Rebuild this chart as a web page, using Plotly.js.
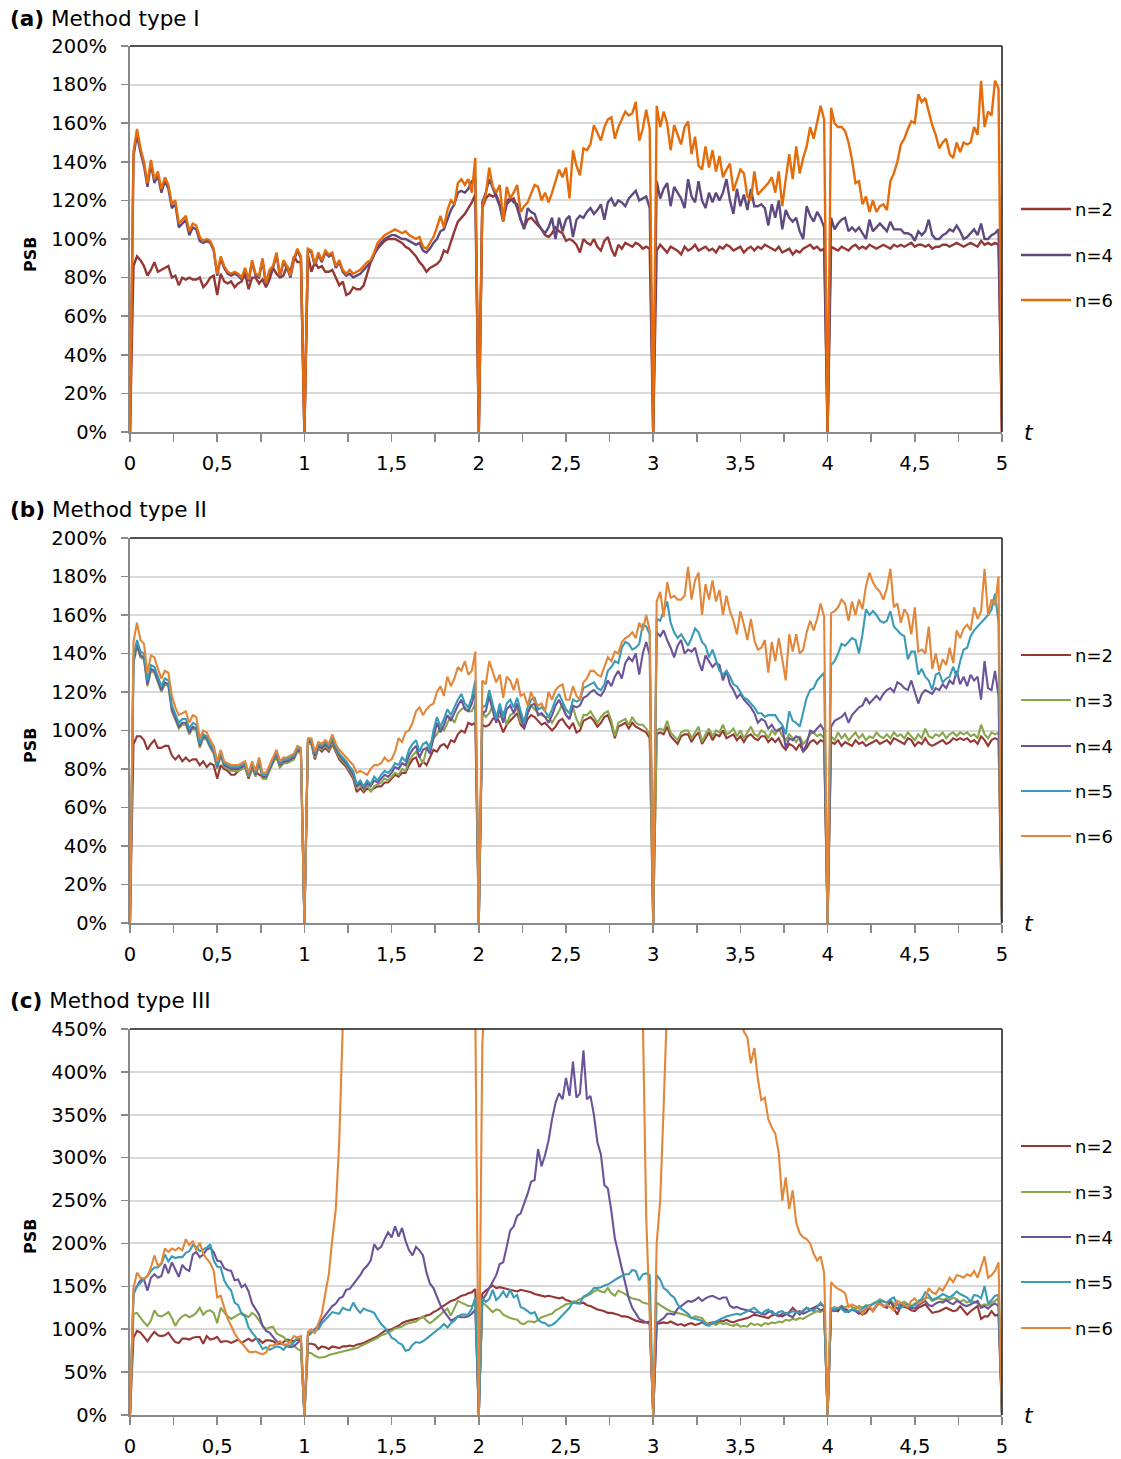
<!DOCTYPE html>
<html>
<head>
<meta charset="utf-8">
<script src="https://cdn.plot.ly/plotly-3.0.1.min.js"></script>
<style>
  html, body { margin: 0; padding: 0; background: #fff; }
  #chart { width: 1121px; height: 1459px; }
</style>
</head>
<body>
<div id="chart"></div>
<script>
// ---------------------------------------------------------------
// PSB over time t (0 … 5), sampled every 0.02
// ---------------------------------------------------------------
const N_SAMPLES = 251;
const t = Array.from({ length: N_SAMPLES }, (_, i) => +(i * 0.02).toFixed(2));

const tickValsT = [0, 0.25, 0.5, 0.75, 1, 1.25, 1.5, 1.75, 2, 2.25, 2.5, 2.75, 3, 3.25, 3.5, 3.75, 4, 4.25, 4.5, 4.75, 5];
const tickTextT = ['0', '', '0,5', '', '1', '', '1,5', '', '2', '', '2,5', '', '3', '', '3,5', '', '4', '', '4,5', '', '5'];

const panelLabels = ['(a)', '(b)', '(c)'];
const panelNames = ['Method type I', 'Method type II', 'Method type III'];

// ---------------- (a) Method type I ----------------
const a_n2 = [
  0, 86, 91, 89, 86, 81, 84, 88, 83, 84,
  85, 86, 80, 81, 76, 80, 79, 80, 79, 79,
  80, 75, 77, 80, 81, 71, 82, 78, 77, 78,
  75, 77, 78, 82, 74, 80, 80, 77, 79, 75,
  79, 85, 82, 80, 81, 86, 83, 91, 88, 88,
  0, 92, 83, 88, 85, 86, 83, 83, 84, 80,
  76, 78, 71, 72, 75, 74, 74, 76, 82, 88,
  92, 95, 97, 99, 100, 100, 100, 99, 98, 96,
  95, 93, 91, 88, 86, 83, 85, 86, 87, 89,
  94, 93, 99, 104, 109, 111, 113, 116, 119, 123,
  0, 116, 121, 123, 122, 123, 118, 110, 118, 120,
  121, 116, 110, 106, 110, 111, 109, 107, 105, 102,
  101, 103, 106, 104, 103, 99, 100, 99, 97, 93,
  100, 98, 97, 100, 96, 94, 99, 101, 95, 91,
  97, 95, 98, 97, 96, 98, 97, 95, 96, 95,
  0, 94, 97, 95, 93, 96, 95, 94, 92, 96,
  94, 95, 97, 94, 95, 96, 94, 95, 93, 96,
  95, 97, 96, 94, 95, 96, 93, 95, 96, 94,
  96, 95, 97, 96, 95, 94, 96, 93, 94, 95,
  92, 94, 93, 95, 96, 97, 95, 96, 94, 95,
  0, 96, 95, 94, 96, 95, 94, 96, 97, 95,
  96, 95, 97, 96, 95, 96, 97, 96, 95, 97,
  96, 97, 96, 97, 98, 96, 97, 97, 96, 97,
  95, 96, 96, 97, 97, 96, 97, 98, 97, 96,
  97, 98, 97, 96, 99, 97, 98, 97, 98, 97,
  0
];
const a_n4 = [
  0, 143, 154, 145, 138, 127, 139, 129, 133, 124,
  130, 126, 116, 118, 106, 108, 110, 102, 106, 105,
  99, 98, 99, 98, 94, 81, 90, 85, 82, 81,
  82, 81, 79, 84, 78, 88, 81, 80, 89, 76,
  83, 85, 92, 80, 88, 85, 80, 89, 94, 90,
  0, 94, 93, 86, 92, 88, 93, 91, 92, 85,
  88, 83, 81, 82, 80, 81, 82, 84, 86, 88,
  92, 96, 98, 100, 101, 102, 102, 101, 100, 100,
  99, 98, 97, 98, 94, 93, 95, 98, 100, 104,
  105, 110, 115, 118, 124, 125, 124, 126, 130, 131,
  0, 119, 124, 131, 126, 122, 117, 109, 120, 121,
  119, 118, 110, 105, 116, 114, 113, 108, 105, 103,
  106, 111, 100, 111, 104, 110, 112, 101, 110, 112,
  111, 114, 116, 113, 115, 118, 110, 119, 121, 117,
  120, 119, 117, 121, 123, 125, 120, 121, 122, 116,
  0, 130, 121, 126, 129, 117, 127, 124, 121, 116,
  131, 122, 119, 130, 120, 116, 124, 119, 124, 120,
  124, 131, 120, 113, 126, 117, 123, 115, 126, 117,
  117, 118, 116, 107, 118, 111, 120, 105, 115, 111,
  109, 111, 104, 100, 117, 112, 109, 114, 111, 106,
  0, 111, 105, 108, 110, 111, 104, 106, 104, 106,
  103, 100, 110, 104, 106, 108, 106, 104, 109, 105,
  105, 105, 103, 103, 102, 99, 104, 102, 104, 110,
  102, 100, 100, 102, 103, 105, 104, 107, 104, 100,
  101, 103, 105, 102, 108, 100, 100, 102, 103, 105,
  0
];
const a_n6 = [
  0, 145, 157, 147, 140, 129, 141, 131, 135, 126,
  132, 128, 118, 120, 108, 110, 112, 104, 108, 107,
  101, 99, 100, 99, 95, 82, 91, 86, 83, 82,
  83, 82, 80, 85, 79, 89, 82, 81, 90, 77,
  84, 86, 93, 81, 89, 86, 81, 90, 95, 91,
  0, 95, 94, 87, 93, 89, 94, 92, 93, 86,
  89, 84, 82, 84, 82, 83, 84, 86, 88, 89,
  93, 98, 100, 102, 103, 104, 105, 104, 103, 104,
  102, 101, 100, 101, 96, 95, 98, 101, 106, 112,
  106, 115, 120, 118, 129, 131, 128, 131, 124, 142,
  0, 117, 123, 137, 127, 124, 128, 109, 127, 121,
  124, 128, 114, 117, 119, 124, 128, 127, 120, 124,
  119, 124, 130, 136, 132, 137, 121, 146, 138, 133,
  147, 146, 149, 159, 155, 151, 158, 162, 163, 152,
  158, 162, 166, 164, 165, 171, 151, 157, 167, 157,
  0, 169, 158, 166, 160, 146, 159, 154, 149, 158,
  161, 144, 153, 138, 136, 148, 137, 146, 135, 143,
  132, 136, 139, 125, 130, 136, 134, 122, 120, 135,
  123, 125, 127, 129, 132, 124, 135, 117, 131, 144,
  131, 148, 134, 142, 148, 158, 152, 160, 169, 162,
  0, 168, 160, 158, 158, 156, 150, 141, 129, 130,
  118, 122, 114, 120, 114, 117, 118, 115, 130, 134,
  140, 149, 152, 157, 161, 160, 175, 171, 173, 166,
  159, 154, 147, 150, 152, 144, 142, 150, 145, 150,
  149, 150, 158, 154, 182, 158, 166, 164, 182, 178,
  0
];

// ---------------- (b) Method type II ----------------
const b_n2 = [
  0, 93, 97, 97, 95, 90, 93, 95, 91, 91,
  92, 92, 87, 85, 87, 84, 86, 84, 85, 85,
  82, 84, 81, 83, 82, 75, 82, 80, 79, 77,
  77, 79, 80, 81, 75, 80, 79, 77, 76, 75,
  80, 84, 86, 81, 83, 84, 84, 86, 90, 89,
  0, 93, 93, 85, 91, 89, 91, 89, 93, 89,
  85, 83, 81, 78, 75, 68, 70, 68, 70, 69,
  70, 71, 71, 73, 73, 75, 77, 76, 78, 78,
  82, 85, 86, 81, 84, 82, 86, 90, 89, 92,
  93, 91, 95, 94, 98, 100, 99, 104, 103, 104,
  0, 103, 102, 103, 106, 107, 104, 99, 103, 105,
  107, 109, 103, 101, 106, 108, 107, 105, 103, 104,
  102, 100, 102, 105, 106, 103, 101, 104, 99, 100,
  105, 106, 107, 105, 102, 104, 107, 108, 103, 96,
  102, 103, 104, 101, 104, 102, 101, 100, 99, 96,
  0, 98, 99, 98, 102, 97, 95, 93, 97, 98,
  98, 94, 97, 99, 93, 96, 99, 95, 98, 97,
  100, 96, 97, 98, 95, 97, 94, 97, 98, 96,
  95, 97, 97, 94, 96, 94, 96, 92, 90, 93,
  92, 90, 93, 89, 91, 94, 95, 93, 95, 94,
  0, 94, 93, 95, 92, 94, 93, 92, 95, 93,
  94, 92, 93, 94, 95, 93, 94, 95, 93, 96,
  95, 94, 93, 96, 95, 92, 94, 93, 96, 93,
  92, 93, 94, 95, 93, 94, 96, 95, 96, 95,
  96, 94, 95, 93, 97, 95, 92, 95, 96, 95,
  0
];
const b_n3 = [
  0, 135, 144, 138, 137, 123, 131, 130, 125, 120,
  124, 123, 110, 105, 101, 103, 103, 98, 101, 100,
  91, 96, 95, 91, 88, 80, 87, 81, 80, 79,
  79, 79, 80, 81, 76, 81, 76, 83, 75, 75,
  79, 83, 87, 81, 83, 83, 84, 85, 89, 88,
  0, 93, 93, 86, 91, 90, 92, 90, 94, 90,
  86, 84, 82, 79, 76, 70, 72, 69, 72, 68,
  71, 72, 73, 75, 74, 76, 78, 77, 80, 79,
  84, 87, 89, 86, 83, 90, 93, 96, 98, 102,
  100, 104, 107, 104, 109, 111, 112, 110, 110, 114,
  0, 110, 107, 109, 113, 108, 107, 110, 103, 108,
  109, 112, 104, 106, 109, 113, 111, 109, 108, 107,
  107, 104, 107, 110, 114, 108, 106, 112, 106, 102,
  108, 108, 110, 107, 104, 107, 109, 110, 105, 97,
  104, 105, 106, 103, 107, 104, 103, 103, 101, 98,
  0, 100, 101, 100, 105, 99, 97, 95, 99, 100,
  100, 96, 99, 102, 94, 98, 101, 97, 100, 99,
  103, 98, 99, 101, 97, 100, 96, 99, 102, 98,
  97, 100, 99, 96, 100, 98, 101, 97, 95, 98,
  96, 94, 97, 93, 95, 98, 99, 97, 98, 96,
  0, 97, 95, 99, 96, 98, 95, 97, 99, 96,
  98, 95, 97, 96, 99, 97, 96, 98, 96, 99,
  97, 98, 96, 99, 97, 95, 98, 96, 101, 97,
  96, 98, 97, 99, 96, 98, 99, 97, 99, 98,
  99, 97, 98, 96, 103, 98, 96, 99, 98, 99,
  0
];
const b_n4 = [
  0, 136, 145, 139, 138, 124, 132, 131, 126, 121,
  125, 124, 111, 106, 102, 104, 104, 99, 102, 101,
  92, 97, 96, 92, 89, 81, 88, 82, 81, 80,
  80, 80, 81, 82, 77, 82, 77, 84, 76, 76,
  80, 84, 88, 82, 84, 84, 85, 86, 90, 89,
  0, 94, 94, 87, 92, 91, 93, 91, 95, 91,
  87, 85, 83, 80, 77, 71, 73, 70, 73, 71,
  74, 73, 75, 77, 76, 78, 81, 80, 83, 82,
  87, 90, 92, 86, 90, 91, 88, 97, 104, 99,
  103, 108, 105, 109, 113, 116, 111, 110, 114, 122,
  0, 109, 110, 118, 110, 104, 111, 104, 111, 113,
  109, 114, 107, 101, 109, 113, 114, 108, 109, 107,
  104, 108, 113, 116, 112, 108, 106, 113, 112, 113,
  117, 118, 120, 121, 119, 118, 121, 126, 123, 128,
  131, 127, 135, 138, 136, 140, 129, 140, 146, 139,
  0, 151, 149, 152, 147, 143, 138, 144, 147, 140,
  142, 141, 143, 136, 131, 139, 136, 133, 135, 134,
  126, 131, 124, 121, 117, 119, 116, 114, 112, 109,
  104, 106, 105, 101, 103, 100, 100, 102, 91, 96,
  95, 97, 96, 89, 93, 100, 99, 101, 103, 100,
  0, 102, 105, 106, 107, 109, 104, 108, 110, 112,
  113, 117, 114, 116, 118, 116, 119, 121, 122, 120,
  125, 124, 122, 121, 126, 120, 114, 119, 121, 120,
  119, 122, 121, 124, 122, 126, 124, 131, 124, 128,
  123, 129, 126, 128, 116, 136, 122, 121, 131, 118,
  0
];
const b_n5 = [
  0, 138, 147, 141, 140, 126, 134, 133, 128, 123,
  127, 126, 113, 108, 104, 106, 106, 101, 104, 103,
  93, 98, 97, 93, 90, 82, 89, 83, 82, 81,
  81, 81, 82, 83, 77, 83, 78, 85, 77, 77,
  81, 85, 89, 83, 85, 85, 86, 87, 91, 90,
  0, 95, 95, 88, 93, 92, 94, 92, 96, 92,
  88, 86, 84, 81, 79, 72, 74, 71, 74, 72,
  76, 74, 77, 79, 78, 80, 83, 82, 86, 84,
  90, 93, 95, 89, 93, 94, 90, 100, 107, 102,
  106, 111, 108, 112, 116, 119, 114, 112, 117, 126,
  0, 112, 113, 121, 113, 106, 114, 107, 114, 116,
  112, 117, 110, 104, 112, 116, 117, 111, 112, 110,
  107, 111, 116, 119, 115, 111, 109, 116, 115, 116,
  122, 123, 124, 125, 122, 121, 124, 131, 133, 136,
  135, 143, 146, 145, 142, 143, 145, 155, 154, 150,
  0, 158, 157, 162, 167, 156, 151, 148, 150, 147,
  144, 148, 153, 151, 146, 144, 138, 142, 137, 131,
  129, 131, 128, 124, 123, 120, 117, 116, 114, 112,
  109, 109, 107, 108, 108, 108, 105, 103, 98, 110,
  105, 104, 102, 110, 117, 121, 122, 126, 128, 130,
  0, 134, 136, 140, 145, 144, 146, 148, 147, 140,
  150, 163, 160, 162, 160, 157, 156, 157, 162, 154,
  152, 150, 149, 137, 141, 141, 129, 132, 128, 126,
  121, 129, 130, 125, 127, 128, 133, 128, 136, 142,
  143, 149, 152, 154, 156, 158, 160, 163, 171, 156,
  0
];
const b_n6 = [
  0, 146, 156, 147, 145, 130, 139, 138, 132, 127,
  131, 130, 118, 112, 108, 109, 110, 104, 108, 107,
  96, 100, 99, 95, 92, 84, 90, 84, 83, 82,
  82, 82, 83, 84, 78, 84, 79, 86, 78, 78,
  82, 86, 90, 84, 86, 86, 87, 88, 92, 91,
  0, 96, 96, 89, 94, 93, 95, 93, 98, 93,
  90, 88, 86, 84, 82, 78, 79, 78, 77, 80,
  82, 82, 83, 86, 84, 85, 89, 96, 94, 99,
  100, 104, 110, 112, 108, 111, 113, 114, 120, 123,
  118, 128, 123, 127, 133, 131, 136, 129, 131, 141,
  0, 126, 124, 136, 131, 125, 129, 117, 128, 126,
  121, 127, 118, 119, 113, 120, 115, 113, 114, 110,
  120, 116, 121, 123, 124, 116, 116, 123, 118, 116,
  125, 127, 131, 131, 129, 128, 133, 138, 136, 141,
  140, 146, 148, 149, 151, 148, 156, 152, 160, 152,
  0, 167, 172, 159, 177, 169, 170, 168, 168, 170,
  185, 168, 178, 182, 160, 176, 168, 178, 167, 173,
  160, 170, 162, 157, 150, 162, 155, 147, 158, 147,
  142, 143, 147, 130, 146, 136, 148, 136, 126, 150,
  141, 150, 140, 142, 151, 157, 152, 158, 166, 159,
  0, 161, 162, 164, 168, 166, 157, 167, 160, 168,
  163, 175, 182, 177, 174, 172, 168, 174, 184, 164,
  166, 156, 163, 160, 150, 164, 141, 142, 140, 154,
  132, 140, 131, 137, 134, 143, 135, 152, 148, 153,
  155, 152, 164, 158, 162, 184, 160, 168, 165, 180,
  0
];

// ---------------- (c) Method type III ----------------
const c_n2 = [
  0, 90, 98, 96, 91, 86, 92, 97, 93, 92,
  93, 96, 90, 85, 84, 89, 89, 88, 90, 91,
  91, 83, 92, 88, 89, 91, 85, 86, 86, 84,
  86, 88, 84, 87, 89, 86, 89, 88, 84, 87,
  87, 86, 83, 83, 85, 88, 87, 86, 88, 86,
  0, 83, 83, 82, 77, 80, 79, 77, 80, 79,
  78, 80, 80, 81, 80, 82, 83, 84, 86, 88,
  90, 92, 95, 98, 99, 100, 102, 104, 107, 109,
  110, 111, 112, 113, 114, 116, 117, 120, 122, 125,
  128, 131, 133, 134, 137, 139, 140, 142, 143, 147,
  0, 141, 145, 148, 151, 148, 149, 148, 147, 146,
  145, 144, 146, 145, 144, 143, 141, 140, 139, 138,
  139, 138, 137, 136, 137, 134, 133, 131, 131, 130,
  131, 128, 127, 125, 123, 122, 121, 119, 119, 118,
  117, 115, 115, 114, 112, 110, 109, 108, 108, 109,
  0, 106, 107, 108, 107, 109, 107, 105, 106, 104,
  106, 107, 105, 106, 108, 106, 107, 108, 107, 110,
  109, 111, 109, 108, 110, 111, 112, 113, 115, 117,
  116, 115, 114, 113, 116, 117, 116, 115, 117, 120,
  125, 121, 117, 121, 125, 123, 125, 127, 129, 127,
  0, 125, 122, 121, 127, 124, 121, 123, 122, 120,
  117, 119, 125, 121, 127, 131, 127, 125, 133, 124,
  117, 128, 126, 125, 122, 121, 125, 127, 129, 124,
  119, 120, 121, 123, 125, 123, 121, 122, 127, 122,
  117, 121, 124, 127, 112, 115, 115, 121, 116, 117,
  0
];
const c_n3 = [
  0, 118, 119, 113, 108, 104, 110, 122, 116, 115,
  117, 120, 113, 104, 111, 115, 117, 114, 116, 119,
  125, 117, 121, 122, 119, 107, 125, 120, 115, 112,
  115, 117, 119, 116, 114, 119, 116, 110, 104, 100,
  102, 103, 95, 93, 91, 86, 85, 81, 77, 75,
  0, 73, 72, 69, 67, 67, 68, 70, 71, 72,
  73, 74, 75, 76, 77, 78, 80, 82, 84, 86,
  88, 90, 93, 94, 96, 98, 101, 102, 103, 106,
  107, 108, 109, 112, 115, 110, 107, 110, 113, 117,
  121, 124, 116, 124, 133, 131, 129, 127, 127, 131,
  0, 131, 128, 124, 120, 123, 122, 117, 115, 113,
  112, 111, 107, 106, 109, 109, 108, 111, 114, 115,
  117, 118, 122, 124, 127, 129, 130, 132, 133, 135,
  137, 139, 141, 144, 146, 144, 143, 148, 142, 139,
  145, 143, 141, 138, 136, 135, 134, 131, 130, 129,
  0, 131, 128, 125, 123, 121, 120, 119, 118, 117,
  115, 113, 115, 114, 113, 108, 106, 107, 105, 108,
  106, 107, 105, 104, 106, 103, 104, 103, 107, 105,
  106, 104, 107, 106, 108, 107, 109, 108, 111, 110,
  112, 111, 113, 112, 115, 117, 119, 121, 120, 123,
  0, 124, 126, 124, 127, 125, 128, 126, 124, 127,
  125, 128, 126, 130, 132, 135, 133, 131, 134, 130,
  128, 130, 132, 129, 127, 130, 131, 134, 136, 137,
  133, 135, 136, 134, 136, 134, 137, 135, 132, 134,
  131, 133, 132, 130, 127, 129, 128, 131, 133, 136,
  0
];
const c_n4 = [
  0, 141, 150, 157, 158, 145, 160, 164, 160, 162,
  176, 165, 178, 169, 161, 175, 170, 168, 187, 190,
  184, 187, 193, 195, 190, 180, 179, 171, 169, 168,
  157, 158, 149, 152, 144, 130, 124, 117, 104, 98,
  96, 91, 86, 84, 82, 80, 79, 80, 84, 88,
  0, 92, 96, 100, 104, 111, 116, 121, 127, 130,
  136, 138, 146, 147, 152, 157, 163, 170, 174, 180,
  199, 193, 196, 205, 213, 207, 220, 208, 218, 203,
  192, 186, 196, 192, 186, 166, 153, 148, 138, 128,
  121, 116, 110, 112, 115, 114, 114, 115, 118, 123,
  0, 134, 140, 148, 155, 163, 176, 178, 196, 215,
  220, 232, 235, 246, 258, 272, 274, 310, 290, 303,
  320, 345, 364, 375, 368, 393, 372, 412, 370, 375,
  425, 368, 372, 350, 318, 304, 268, 264, 238, 206,
  188, 168, 151, 136, 125, 118, 112, 110, 108, 106,
  0, 107, 110, 113, 118, 118, 117, 124, 127, 130,
  133, 132, 134, 137, 133, 136, 138, 139, 137, 135,
  137, 137, 127, 125, 126, 124, 123, 122, 121, 119,
  120, 118, 117, 120, 121, 117, 115, 118, 119, 116,
  114, 120, 121, 118, 120, 122, 124, 125, 122, 124,
  0, 122, 121, 124, 126, 122, 120, 123, 121, 118,
  120, 124, 125, 122, 128, 130, 127, 126, 132, 127,
  124, 128, 129, 126, 125, 124, 128, 131, 133, 128,
  127, 130, 132, 131, 134, 131, 129, 133, 131, 128,
  127, 129, 131, 133, 125, 127, 124, 128, 130, 127,
  0
];
const c_n5 = [
  0, 143, 150, 154, 158, 162, 168, 172, 172, 176,
  187, 179, 185, 183, 184, 184, 189, 191, 198, 196,
  191, 193, 195, 199, 180, 173, 172, 157, 150, 145,
  131, 128, 118, 115, 102, 96, 91, 84, 77, 79,
  76, 78, 80, 79, 76, 81, 81, 85, 90, 87,
  0, 94, 97, 99, 100, 107, 111, 115, 120, 119,
  118, 125, 123, 122, 131, 124, 119, 124, 122, 121,
  119, 112, 106, 102, 97, 90, 88, 84, 82, 75,
  76, 82, 85, 84, 86, 89, 92, 95, 99, 102,
  106, 102, 107, 110, 115, 117, 117, 117, 124, 137,
  0, 136, 132, 135, 146, 134, 138, 144, 137, 146,
  137, 140, 126, 124, 121, 118, 120, 111, 108, 107,
  104, 105, 108, 112, 117, 121, 125, 132, 130, 130,
  138, 140, 143, 148, 148, 149, 151, 152, 155, 158,
  160, 162, 164, 164, 169, 168, 157, 164, 165, 163,
  0, 163, 158, 148, 145, 140, 137, 129, 124, 121,
  118, 113, 112, 111, 110, 105, 104, 107, 109, 111,
  113, 115, 116, 117, 118, 117, 119, 121, 123, 125,
  121, 118, 121, 123, 119, 117, 120, 121, 118, 119,
  121, 120, 119, 122, 125, 123, 121, 126, 131, 126,
  0, 124, 123, 125, 124, 120, 121, 123, 122, 121,
  124, 127, 128, 129, 131, 133, 132, 131, 135, 137,
  129, 125, 128, 129, 127, 128, 133, 135, 143, 140,
  134, 136, 138, 141, 139, 137, 140, 144, 141, 139,
  137, 132, 140, 139, 136, 150, 130, 134, 139, 140,
  0
];
// n=6 leaves the 0–450 % window for long stretches; those samples are null
const c_n6 = [
  0, 148, 166, 160, 159, 162, 172, 186, 174, 177,
  194, 190, 194, 192, 195, 192, 205, 198, 203, 192,
  201, 188, 182, 177, 168, 137, 139, 125, 112, 104,
  95, 89, 84, 79, 74, 73, 74, 72, 71, 73,
  81, 81, 83, 86, 82, 82, 86, 92, 90, 92,
  0, 97, 100, 95, 106, 118, 142, 164, 205, 240,
  320, 455, null, null, null, null, null, null, null, null,
  null, null, null, null, null, null, null, null, null, null,
  null, null, null, null, null, null, null, null, null, null,
  null, null, null, null, null, null, null, null, null, 470,
  0, 430, 520, null, null, null, null, null, null, null,
  null, null, null, null, null, null, null, null, null, null,
  null, null, null, null, null, null, null, null, null, null,
  null, null, null, null, null, null, null, null, null, null,
  null, null, null, null, null, null, null, 470, 230, 115,
  0, 200, 250, 360, 480, null, null, null, null, null,
  null, null, null, null, null, null, null, null, null, null,
  null, null, null, null, null, 470, 447, 440, 410, 428,
  392, 367, 370, 345, 335, 328, 305, 250, 277, 240,
  262, 224, 212, 207, 205, 200, 188, 180, 185, 166,
  0, 155, 150, 147, 145, 142, 126, 129, 127, 124,
  118, 124, 127, 121, 128, 130, 126, 129, 125, 122,
  133, 131, 128, 126, 133, 136, 130, 132, 135, 148,
  143, 141, 148, 145, 152, 160, 155, 163, 162, 160,
  164, 162, 168, 160, 172, 185, 160, 163, 168, 178,
  0
];

// ---------------------------------------------------------------
// styling
// ---------------------------------------------------------------
const FONT = 'DejaVu Sans, Verdana, sans-serif';
const W = 1121, H = 1459;
const px = x => x / W;          // pixel -> paper (horizontal)
const py = y => 1 - y / H;      // pixel -> paper (vertical)

const COLORS_A = { 'n=2': '#953735', 'n=4': '#5f4a80', 'n=6': '#e46c0a' };
const COLORS_BC = { 'n=2': '#953735', 'n=3': '#89a64b', 'n=4': '#6b539a', 'n=5': '#3a9bb6', 'n=6': '#e2873a' };

// plot rectangles (pixels): left, right, top, bottom
const plotX = [130, 1002];
const panels = [
  { top: 46,   bottom: 432,  yMax: 200, yStep: 20, titleY: 19,   legendY: [209, 255, 300],             psbY: 255 },
  { top: 538,  bottom: 923,  yMax: 200, yStep: 20, titleY: 509,  legendY: [655, 700, 746, 791, 836],   psbY: 746 },
  { top: 1029, bottom: 1415, yMax: 450, yStep: 50, titleY: 1000, legendY: [1146, 1192, 1237, 1282, 1328], psbY: 1237 }
];

const panelSeries = [
  [['n=2', a_n2], ['n=4', a_n4], ['n=6', a_n6]],
  [['n=2', b_n2], ['n=3', b_n3], ['n=4', b_n4], ['n=5', b_n5], ['n=6', b_n6]],
  [['n=2', c_n2], ['n=3', c_n3], ['n=4', c_n4], ['n=5', c_n5], ['n=6', c_n6]]
];

const traces = [];
const layout = {
  width: W, height: H,
  margin: { l: 0, r: 0, t: 0, b: 0 },
  paper_bgcolor: '#ffffff',
  plot_bgcolor: '#ffffff',
  showlegend: false,
  font: { family: FONT, size: 19, color: '#000000' },
  shapes: [],
  annotations: []
};

panels.forEach((p, i) => {
  const sfx = i === 0 ? '' : String(i + 1);
  const xName = 'x' + sfx, yName = 'y' + sfx;
  const colors = i === 0 ? COLORS_A : COLORS_BC;
  const lw = i === 0 ? 2.4 : 2.1;

  panelSeries[i].forEach(([name, vals]) => {
    traces.push({
      type: 'scatter', mode: 'lines', name,
      x: t, y: vals,
      xaxis: xName, yaxis: yName,
      line: { color: colors[name], width: lw },
      connectgaps: false,
      hoverinfo: 'skip'
    });
  });

  layout['xaxis' + sfx] = {
    domain: [px(plotX[0]), px(plotX[1])],
    anchor: yName,
    range: [0, 5],
    tickmode: 'array', tickvals: tickValsT, ticktext: tickTextT,
    ticks: 'outside', ticklen: 8, tickwidth: 1.5, tickcolor: '#8a8a8a',
    showline: true, linecolor: '#8a8a8a', linewidth: 2,
    showgrid: false, zeroline: false,
    tickfont: { family: FONT, size: 19.5, color: '#000' },
    ticklabelstandoff: 5,
    automargin: false, fixedrange: true
  };
  layout['yaxis' + sfx] = {
    domain: [py(p.bottom), py(p.top)],
    anchor: xName,
    range: [0, p.yMax],
    tickmode: 'linear', tick0: 0, dtick: p.yStep, ticksuffix: '%',
    ticks: 'outside', ticklen: 7, tickwidth: 1.5, tickcolor: '#8a8a8a',
    showline: true, linecolor: '#8a8a8a', linewidth: 2,
    showgrid: true, gridcolor: '#d9d9d9', gridwidth: 2,
    zeroline: false,
    tickfont: { family: FONT, size: 19.5, color: '#000' },
    ticklabelstandoff: 10,
    automargin: false, fixedrange: true
  };

  // dark frame on top and right of the plot area
  layout.shapes.push(
    { type: 'line', xref: xName + ' domain', yref: yName + ' domain', x0: 0, x1: 1, y0: 1, y1: 1, line: { color: '#1a1a1a', width: 1.5 } },
    { type: 'line', xref: xName + ' domain', yref: yName + ' domain', x0: 1, x1: 1, y0: 0, y1: 1, line: { color: '#1a1a1a', width: 1.5 } }
  );

  // panel heading
  layout.annotations.push({
    xref: 'paper', yref: 'paper', x: px(8), y: py(p.titleY),
    xanchor: 'left', yanchor: 'middle', showarrow: false,
    text: '<b>' + panelLabels[i] + '</b> ' + panelNames[i],
    font: { family: FONT, size: 21.5, color: '#000' }
  });
  // y-axis title
  layout.annotations.push({
    xref: 'paper', yref: 'paper', x: px(30), y: py(p.psbY),
    xanchor: 'center', yanchor: 'middle', showarrow: false, textangle: -90,
    text: '<b>PSB</b>',
    font: { family: FONT, size: 16, color: '#000' }
  });
  // t at the end of the horizontal axis
  layout.annotations.push({
    xref: 'paper', yref: 'paper', x: px(1022), y: py(p.bottom),
    xanchor: 'left', yanchor: 'middle', showarrow: false,
    text: '<i>t</i>',
    font: { family: FONT, size: 22, color: '#000' }
  });

  // legend: short line + label per series
  panelSeries[i].forEach(([name], k) => {
    const yy = p.legendY[k];
    layout.shapes.push({
      type: 'line', xref: 'paper', yref: 'paper',
      x0: px(1021), x1: px(1071), y0: py(yy), y1: py(yy),
      line: { color: colors[name], width: lw }
    });
    layout.annotations.push({
      xref: 'paper', yref: 'paper', x: px(1073), y: py(yy),
      xanchor: 'left', yanchor: 'middle', showarrow: false,
      text: name, font: { family: FONT, size: 18, color: '#000' }
    });
  });
});

Plotly.newPlot('chart', traces, layout, { displayModeBar: false, staticPlot: true });
</script>
</body>
</html>
